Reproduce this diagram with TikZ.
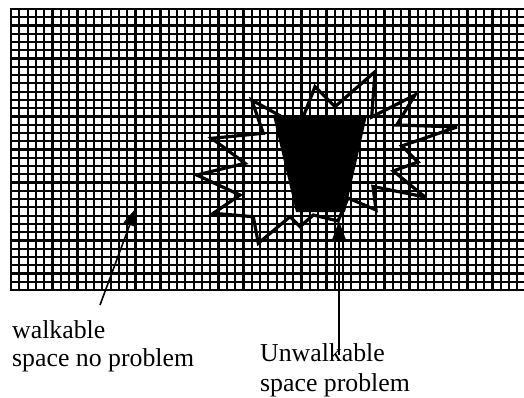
\documentclass[tikz,border=0pt]{standalone}
\usepackage{fontspec}
\setmainfont{Liberation Serif}
\usetikzlibrary{arrows.meta}
\begin{document}
\begin{tikzpicture}[x=1pt,y=-1pt,
  gridline/.style={line width=2.2pt,black},
  starline/.style={line width=3.2pt,line join=miter,miter limit=4,black},
  pointer/.style={line width=1.6pt,-{Triangle[length=18pt,width=13pt]}},
  lbl/.style={anchor=base west,inner sep=0pt,font=\fontsize{25.8}{30}\selectfont}]
\useasboundingbox (0,0) rectangle (524,398);
\fill[white] (0,0) rectangle (524,398);
\begin{scope}
  \clip (0,0) rectangle (524,398);
  \foreach \i in {0,...,62} \draw[gridline] ({11+8.3*\i},9) -- ({11+8.3*\i},290);
  \foreach \j in {0,...,34} \draw[gridline] (10,{9+281/34*\j}) -- (526,{9+281/34*\j});
\end{scope}
% star outline
\draw[starline] (251.7,100) -- (263.3,133.3) -- (211.7,138.3) -- (245,163.3)
  -- (196.7,175) -- (240,195) -- (213.3,213.3) -- (253.3,216.7)
  -- (258.3,243.3) -- (290,216.7) -- (300,226.7) -- (313.3,215)
  -- (338,221) -- (348,198) -- (376,210) -- (373,186.5) -- (425,197)
  -- (393.3,171) -- (418,162) -- (401.7,146) -- (457,127) -- (396.7,125)
  -- (415,95) -- (371.7,117) -- (375,71.7) -- (335,106.7) -- (315,86.7)
  -- (299.4,126.6) -- cycle;
% unwalkable block
\fill[black] (273.3,116.7) -- (366.7,116.7) -- (345,212) -- (296,212) -- cycle;
% labels
\node[lbl] (walk1) at (12,338) {walkable};
\node[lbl] (walk2) at (12,366.7) {space no problem};
\node[lbl] (unw1) at (260,361.7) {Unwalkable};
\node[lbl] (unw2) at (260,391.7) {space problem};
\coordinate (wstart) at (100,305);
\coordinate (wend) at (136,208);
\coordinate (ustart) at (339,355);
\coordinate (uend) at (339,221);
\draw[pointer] (wstart) -- (wend);
\draw[pointer] (ustart) -- (uend);
\end{tikzpicture}
\end{document}
